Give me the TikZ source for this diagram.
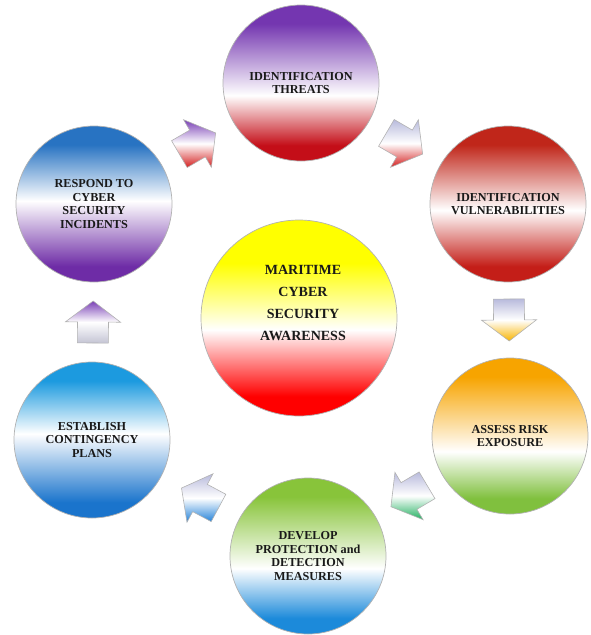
\documentclass[tikz,border=0pt]{standalone}
\usepackage{fontspec}
\setmainfont{Liberation Serif}
\usetikzlibrary{calc}

\definecolor{thTop}{HTML}{7436B0}
\definecolor{thBot}{HTML}{C40E18}
\definecolor{vuTop}{HTML}{C0261A}
\definecolor{vuBot}{HTML}{C41E18}
\definecolor{asTop}{HTML}{F7A400}
\definecolor{asBot}{HTML}{80C03E}
\definecolor{deTop}{HTML}{88C43A}
\definecolor{deBot}{HTML}{1C8ADA}
\definecolor{esTop}{HTML}{1C9ADF}
\definecolor{esBot}{HTML}{1A74CC}
\definecolor{reTop}{HTML}{2873C2}
\definecolor{reBot}{HTML}{6E2CA6}
\definecolor{ceTop}{HTML}{FFFF00}
\definecolor{ceBot}{HTML}{FF0000}
\definecolor{arPur}{HTML}{7A40B6}
\definecolor{arLav}{HTML}{B8BADC}
\definecolor{arRed}{HTML}{D42020}
\definecolor{arOra}{HTML}{F8B400}
\definecolor{arGrn}{HTML}{22B060}
\definecolor{arBlu}{HTML}{2080D8}
\definecolor{arGry}{HTML}{C4C4D4}

\pgfdeclareverticalshading{shTh}{100bp}{color(0bp)=(thBot); color(30bp)=(thBot); color(46bp)=(white); color(69bp)=(thTop); color(100bp)=(thTop)}
\pgfdeclareverticalshading{shVu}{100bp}{color(0bp)=(vuBot); color(30bp)=(vuBot); color(48bp)=(white); color(69bp)=(vuTop); color(100bp)=(vuTop)}
\pgfdeclareverticalshading{shAs}{100bp}{color(0bp)=(asBot); color(30bp)=(asBot); color(45bp)=(white); color(69bp)=(asTop); color(100bp)=(asTop)}
\pgfdeclareverticalshading{shDe}{100bp}{color(0bp)=(deBot); color(30bp)=(deBot); color(46bp)=(white); color(69bp)=(deTop); color(100bp)=(deTop)}
\pgfdeclareverticalshading{shEs}{100bp}{color(0bp)=(esBot); color(30bp)=(esBot); color(52bp)=(white); color(69bp)=(esTop); color(100bp)=(esTop)}
\pgfdeclareverticalshading{shRe}{100bp}{color(0bp)=(reBot); color(30bp)=(reBot); color(51bp)=(white); color(69bp)=(reTop); color(100bp)=(reTop)}
\pgfdeclareverticalshading{shCe}{100bp}{color(0bp)=(ceBot); color(30bp)=(ceBot); color(47bp)=(white); color(64bp)=(ceTop); color(100bp)=(ceTop)}

\tikzset{
  circ/.style={circle, minimum size=156pt, inner sep=0pt, draw=gray!60,
    line width=0.7pt, shade, shading=#1, align=center,
    font=\fontsize{12.2}{13.4}\selectfont\bfseries, text=black!90},
  ctext/.style={align=center, inner sep=0pt,
    font=\fontsize{14}{22}\selectfont\bfseries, text=black!90},
  arr/.style={draw=gray!60, line width=0.6pt, line join=miter},
}

\newcommand\flowarrow[4]{%
  \path[arr, top color=#3, bottom color=#4, middle color=white]
    let \p1=(#1.center), \p2=(#2.center),
        \n1={atan2(\y2-\y1,\x2-\x1)}, \n2={\n1+90},
        \p3=($(\p1)!0.5!(\p2)$) in
    ($(\p3)+(\n1:21pt)$)
    -- ($(\p3)+(\n2:27.5pt)$)
    -- ($(\p3)+(\n2:15.5pt)$)
    -- ($(\p3)+(\n1:-21pt)+(\n2:15.5pt)$)
    -- ($(\p3)+(\n1:-21pt)+(\n2:-15.5pt)$)
    -- ($(\p3)+(\n2:-15.5pt)$)
    -- ($(\p3)+(\n2:-27.5pt)$)
    -- cycle;
}

\begin{document}
\begin{tikzpicture}[x=1pt, y=-1pt]
  \useasboundingbox (0,0) rectangle (590,635);

  \node[circ=shTh] (T) at (301,83) {IDENTIFICATION\\THREATS};
  \node[circ=shVu] (V) at (508,204) {IDENTIFICATION\\VULNERABILITIES};
  \node[circ=shAs] (A) at (510,436) {ASSESS RISK\\EXPOSURE};
  \node[circ=shDe] (D) at (308,556) {DEVELOP\\PROTECTION and\\DETECTION\\MEASURES};
  \node[circ=shEs] (E) at (92,440) {ESTABLISH\\CONTINGENCY\\PLANS};
  \node[circ=shRe] (R) at (94,204) {RESPOND TO\\CYBER\\SECURITY\\INCIDENTS};
  \node[circ=shCe, minimum size=196pt] (C) at (299,318) {};
  \node[ctext] (Ct) at ($(C)+(4,-15)$) {MARITIME\\CYBER\\SECURITY\\AWARENESS};

  \flowarrow{R}{T}{arPur}{arRed}
  \flowarrow{T}{V}{arLav}{arRed}
  \flowarrow{V}{A}{arLav}{arOra}
  \flowarrow{A}{D}{arLav}{arGrn}
  \flowarrow{D}{E}{arLav}{arBlu}
  \flowarrow{E}{R}{arPur}{arGry}
\end{tikzpicture}
\end{document}
